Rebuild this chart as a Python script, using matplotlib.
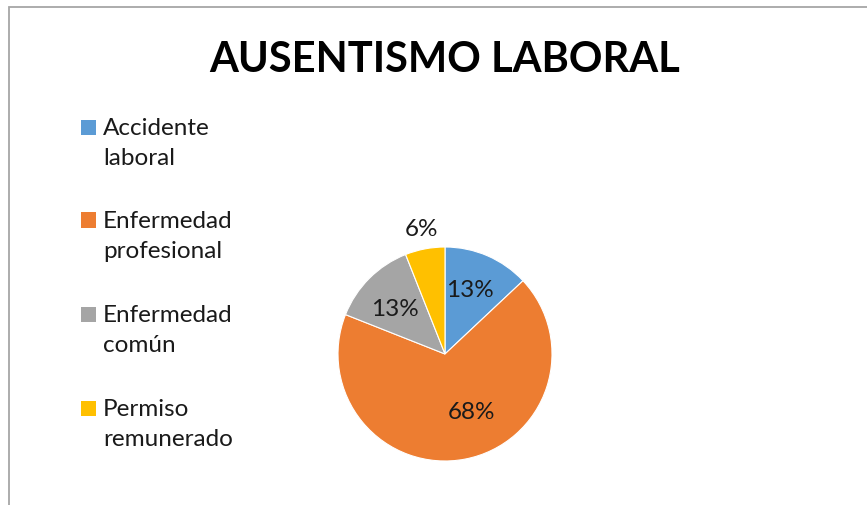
import matplotlib
matplotlib.use("Agg")
import matplotlib.pyplot as plt
from matplotlib.patches import Rectangle
import numpy as np

title = "AUSENTISMO LABORAL"
categories = ["Accidente\nlaboral", "Enfermedad\nprofesional", "Enfermedad\ncomún", "Permiso\nremunerado"]
values = [13, 68, 13, 6]
colors = ["#5B9BD5", "#ED7D31", "#A5A5A5", "#FFC000"]
# label placement (fraction of radius, angle offset in degrees from slice middle)
label_r = [0.65, 0.59, 0.63, 1.19]
label_da = [2, 14, 3, 0]

W, H = 867, 506
fig = plt.figure(figsize=(W / 100, H / 100), dpi=100)
plt.rcParams['font.family'] = ['Lato', 'DejaVu Sans']

# chart border
fig.patches.append(Rectangle((9 / W, -0.1), 1.2, 1 - 8 / H + 0.1, transform=fig.transFigure,
                             fill=False, edgecolor="#A6A6A6", linewidth=1.3))

fig.text(445 / W, 1 - 60 / H, title, ha="center", va="center", fontsize=30,
         fontweight="bold", color="black")

cx, cy, R = 445, 355, 107
half = 120
ax = fig.add_axes([(cx - half) / W, (H - cy - half) / H, 2 * half / W, 2 * half / H])
lim = half / R
ax.set_xlim(-lim, lim)
ax.set_ylim(-lim, lim)
ax.axis("off")

wedges, _ = ax.pie(values, colors=colors, startangle=90, counterclock=False, radius=1,
                   wedgeprops=dict(edgecolor="white", linewidth=0.8))
ax.set_xlim(-lim, lim)
ax.set_ylim(-lim, lim)

total = sum(values)
for w, v, r, da in zip(wedges, values, label_r, label_da):
    mid = np.deg2rad((w.theta1 + w.theta2) / 2 + da)
    ax.text(r * np.cos(mid), r * np.sin(mid), f"{round(100 * v / total)}%",
            ha="center", va="center", fontsize=17.5, color="#1a1a1a")

# legend
ys = [128, 221, 315, 409]
for lab, col, y in zip(categories, colors, ys):
    fig.patches.append(Rectangle((81 / W, 1 - (y + 7.5) / H), 15 / W, 15 / H,
                                 transform=fig.transFigure, facecolor=col, edgecolor="none"))
    fig.text(103 / W, 1 - (y - 10) / H, lab, ha="left", va="top", fontsize=17.5,
             color="#1a1a1a", linespacing=1.55)

fig.savefig("out.png", dpi=100)
